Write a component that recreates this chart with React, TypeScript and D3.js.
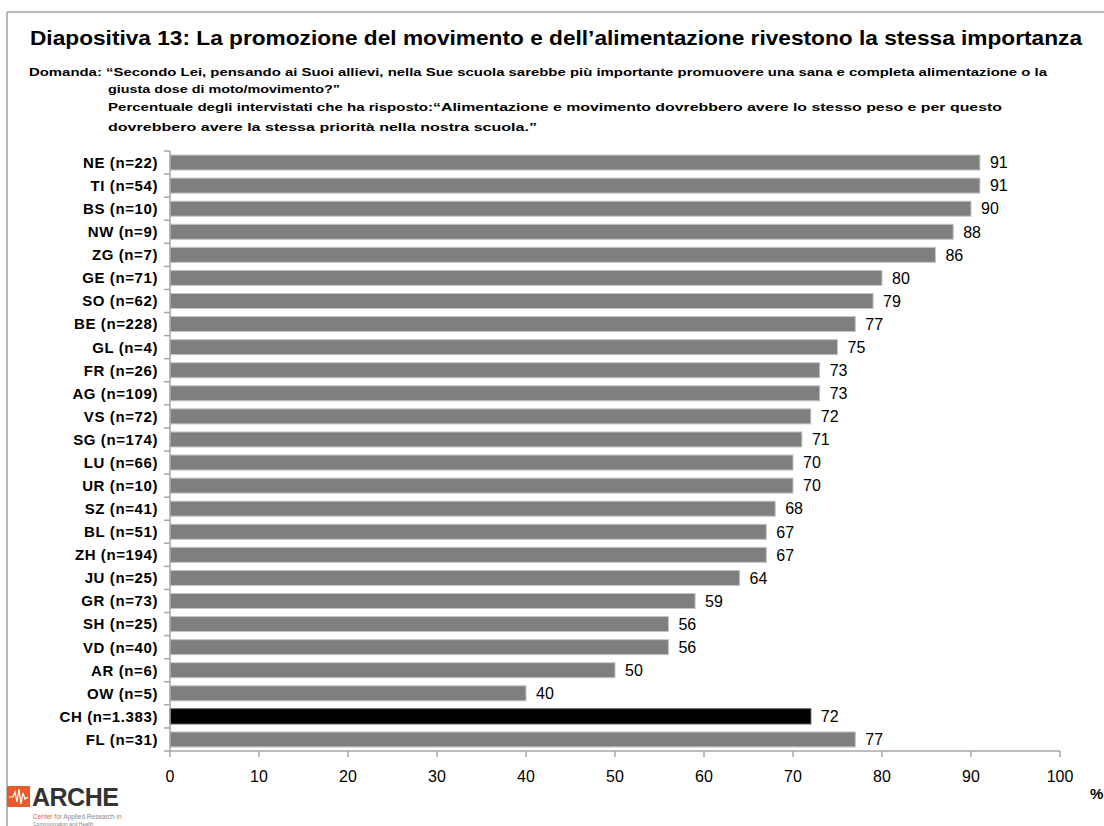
import React from "react";
import * as d3 from "d3";

const categories = [
  "NE (n=22)", "TI (n=54)", "BS (n=10)", "NW (n=9)", "ZG (n=7)", "GE (n=71)",
  "SO (n=62)", "BE (n=228)", "GL (n=4)", "FR (n=26)", "AG (n=109)", "VS (n=72)",
  "SG (n=174)", "LU (n=66)", "UR (n=10)", "SZ (n=41)", "BL (n=51)", "ZH (n=194)",
  "JU (n=25)", "GR (n=73)", "SH (n=25)", "VD (n=40)", "AR (n=6)", "OW (n=5)",
  "CH (n=1.383)", "FL (n=31)",
];
const values = [91, 91, 90, 88, 86, 80, 79, 77, 75, 73, 73, 72, 71, 70, 70, 68, 67, 67, 64, 59, 56, 56, 50, 40, 72, 77];
const highlight = ["CH (n=1.383)"];
const xTicks = [0, 10, 20, 30, 40, 50, 60, 70, 80, 90, 100];

const titleText = "Diapositiva 13: La promozione del movimento e dell\u2019alimentazione rivestono la stessa importanza";
const subLines = [
  "Domanda: \u201CSecondo Lei, pensando ai Suoi allievi, nella Sue scuola sarebbe pi\u00F9 importante promuovere una sana e completa alimentazione o la",
  "giusta dose di moto/movimento?\u201D",
  "Percentuale degli intervistati che ha risposto: ",
  "dovrebbero avere la stessa priorit\u00E0 nella nostra scuola.\u201D",
];
const quoteText = "\u201CAlimentazione e movimento dovrebbero avere lo stesso peso e per questo";

export default function App() {
  const W = 1104, H = 826;
  const x0 = 170, x1 = 1060, yTop = 151, yBot = 751;
  const x = d3.scaleLinear().domain([0, 100]).range([x0, x1]);
  const y = d3.scaleBand<string>().domain(categories).range([yTop, yBot]).paddingInner(0.35).paddingOuter(0.175);
  const axisColor = "#a6a6a6";
  const font = "'Liberation Sans', Arial, sans-serif";
  const boundaries = d3.range(categories.length + 1).map((i) => yTop + i * (yBot - yTop) / categories.length);

  return (
    <svg width={W} height={H} style={{ position: "absolute", left: 0, top: 0, background: "#fff" }} fontFamily={font}>
      <rect x={0} y={0} width={W} height={H} fill="#fff" />
      {/* frame */}
      <line x1={7} y1={12} x2={W} y2={12} stroke="#a0a0a0" strokeWidth={1.5} />
      <line x1={7} y1={12} x2={7} y2={H} stroke="#a0a0a0" strokeWidth={1.5} />

      {/* title */}
      <text x={30} y={45} fontSize={19.5} fontWeight="bold" fill="#000" textLength={1052} lengthAdjust="spacingAndGlyphs">{titleText}</text>
      <g fontSize={11.5} fontWeight="bold" fill="#000">
        <text x={29} y={76} textLength={1018} lengthAdjust="spacingAndGlyphs">{subLines[0]}</text>
        <text x={108} y={93} textLength={232} lengthAdjust="spacingAndGlyphs">{subLines[1]}</text>
        <text x={108} y={111} textLength={325} lengthAdjust="spacingAndGlyphs">{subLines[2]}</text>
        <text x={433} y={111} textLength={569} lengthAdjust="spacingAndGlyphs" fontWeight="900">{quoteText}</text>
        <text x={108} y={131} textLength={429} lengthAdjust="spacingAndGlyphs" fontWeight="900">{subLines[3]}</text>
      </g>

      {/* bars */}
      {categories.map((c, i) => (
        <g key={c}>
          <rect
            x={x(0)}
            y={y(c)!}
            width={x(values[i]) - x(0)}
            height={y.bandwidth()}
            fill={highlight.includes(c) ? "#000" : "#7f7f7f"}
            stroke={highlight.includes(c) ? "#333" : "#c4c4c4"}
            strokeWidth={1}
          />
          <text x={x(values[i]) + 10} y={y(c)! + y.bandwidth() / 2} dy="0.36em" fontSize={16} fill="#000">
            {values[i]}
          </text>
          <text x={158} y={y(c)! + y.bandwidth() / 2} dy="0.36em" fontSize={15} fontWeight="bold" textAnchor="end" letterSpacing={0.6} fill="#000">
            {c}
          </text>
        </g>
      ))}

      {/* y axis */}
      <line x1={x0} y1={yTop} x2={x0} y2={yBot} stroke={axisColor} strokeWidth={1.5} />
      {boundaries.map((b, i) => (
        <line key={"yt" + i} x1={x0 - 6} y1={b} x2={x0} y2={b} stroke={axisColor} strokeWidth={1.5} />
      ))}

      {/* x axis */}
      <line x1={x0} y1={yBot} x2={x1} y2={yBot} stroke={axisColor} strokeWidth={1.5} />
      {xTicks.map((t) => (
        <g key={"xt" + t}>
          <line x1={x(t)} y1={yBot} x2={x(t)} y2={yBot + 6} stroke={axisColor} strokeWidth={1.5} />
          <text x={x(t)} y={782} fontSize={16} textAnchor="middle" fill="#000">{t}</text>
        </g>
      ))}
      <text x={1090} y={799} fontSize={15} fontWeight="bold" fill="#000">%</text>

      {/* logo */}
      <rect x={7} y={786} width={23} height={21} fill="#ea5b2c" />
      <path d="M9,797 L13,797 L15,792 L17,802 L19,789 L21,804 L23,793 L25,799 L28,797" fill="none" stroke="#fff" strokeWidth={1.2} />
      <text x={32} y={806} fontSize={25} fontWeight="bold" fill="#333" letterSpacing={-0.5}>ARCHE</text>
      <text x={33} y={819} fontSize={6.5} fill="#888">
        <tspan fill="#ea5b2c">Center</tspan> for Applied Research in
      </text>
      <text x={33} y={825.5} fontSize={5} fill="#888">Communication and Health</text>
    </svg>
  );
}
